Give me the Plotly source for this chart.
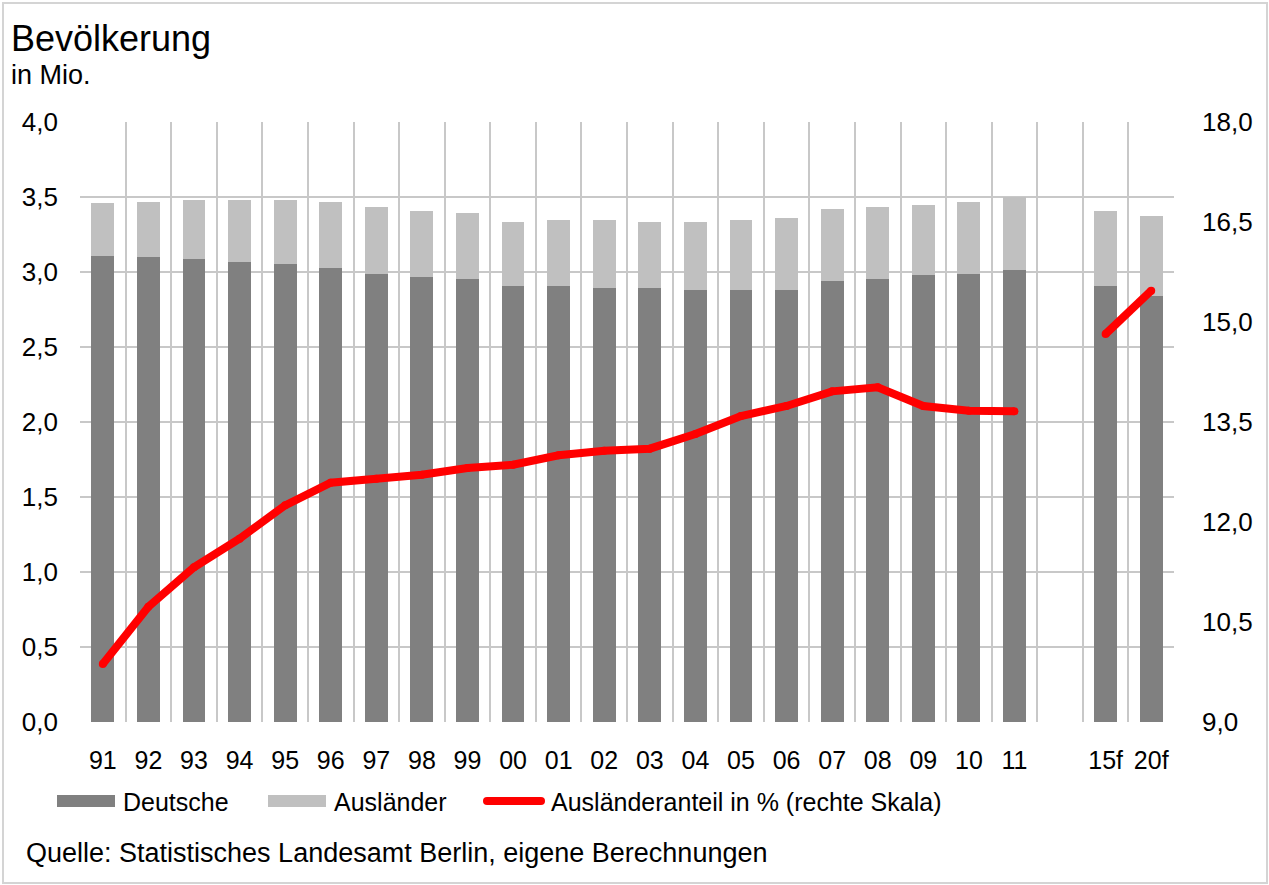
import plotly.graph_objects as go

# Bevölkerung Berlin: Deutsche / Ausländer (Mio.) und Ausländeranteil (%)
jahre = ["91", "92", "93", "94", "95", "96", "97", "98", "99", "00", "01",
         "02", "03", "04", "05", "06", "07", "08", "09", "10", "11", " ",
         "15f", "20f"]
deutsche = [3.110, 3.100, 3.088, 3.065, 3.052, 3.030, 2.990, 2.966, 2.955,
            2.906, 2.906, 2.896, 2.896, 2.882, 2.882, 2.882, 2.940, 2.955,
            2.980, 2.990, 3.015, None, 2.906, 2.842]
auslaender = [0.348, 0.369, 0.393, 0.417, 0.430, 0.439, 0.441, 0.443, 0.441,
              0.427, 0.441, 0.451, 0.437, 0.451, 0.465, 0.478, 0.480, 0.476,
              0.464, 0.479, 0.485, None, 0.501, 0.529]
anteil = [9.87, 10.73, 11.32, 11.75, 12.25, 12.59, 12.65, 12.71, 12.81,
          12.86, 13.00, 13.07, 13.10, 13.32, 13.59, 13.74, 13.96, 14.02,
          13.74, 13.67, 13.66, None, 14.82, 15.47]

FONT = "Liberation Sans, Arial, sans-serif"
W, H = 1269, 885
L, R, T, B = 80, 95, 122, 163
PW, PH = W - L - R, H - T - B

DUNKEL = "#808080"
HELL = "#c0c0c0"
ROT = "#ff0000"
GRID = "#c8c8c8"


def px_x(x):
    return (x - L) / PW


def px_y(y):
    return (H - B - y) / PH


fig = go.Figure()
fig.add_trace(go.Bar(x=jahre, y=deutsche, name="Deutsche",
                     marker=dict(color=DUNKEL, line=dict(width=0)),
                     showlegend=False))
fig.add_trace(go.Bar(x=jahre, y=auslaender, name="Ausländer",
                     marker=dict(color=HELL, line=dict(width=0)),
                     showlegend=False))
fig.add_trace(go.Scatter(x=jahre, y=anteil, yaxis="y2", mode="lines+markers",
                         name="Ausländeranteil in % (rechte Skala)",
                         line=dict(color=ROT, width=8),
                         marker=dict(color=ROT, size=8),
                         connectgaps=False, showlegend=False))

shapes = [
    # Rahmen um die Grafik
    dict(type="rect", xref="paper", yref="paper",
         x0=px_x(3), x1=px_x(1267), y0=px_y(883), y1=px_y(3),
         line=dict(color="#d4d4d4", width=2), fillcolor="rgba(0,0,0,0)",
         layer="below"),
    # Legendensymbole
    dict(type="rect", xref="paper", yref="paper",
         x0=px_x(57), x1=px_x(115), y0=px_y(807), y1=px_y(795),
         line=dict(width=0), fillcolor=DUNKEL),
    dict(type="rect", xref="paper", yref="paper",
         x0=px_x(268), x1=px_x(326), y0=px_y(807), y1=px_y(795),
         line=dict(width=0), fillcolor=HELL),
    dict(type="line", xref="paper", yref="paper",
         x0=px_x(487), x1=px_x(541), y0=px_y(801), y1=px_y(801),
         line=dict(color=ROT, width=8)),
    dict(type="circle", xref="paper", yref="paper",
         x0=px_x(483), x1=px_x(491), y0=px_y(805), y1=px_y(797),
         line=dict(width=0), fillcolor=ROT),
    dict(type="circle", xref="paper", yref="paper",
         x0=px_x(537), x1=px_x(545), y0=px_y(805), y1=px_y(797),
         line=dict(width=0), fillcolor=ROT),
]


def text(x, y, s, size, anchor="left"):
    return dict(xref="paper", yref="paper", x=px_x(x), y=px_y(y), text=s,
                showarrow=False, xanchor=anchor, yanchor="middle",
                font=dict(family=FONT, size=size, color="#000000"))


annotations = [
    text(9, 38, "Bevölkerung", 36),
    text(9, 75, "in Mio.", 27),
    text(121, 802, "Deutsche", 25),
    text(332, 802, "Ausländer", 25),
    text(549, 802, "Ausländeranteil in % (rechte Skala)", 25),
    text(24, 853, "Quelle: Statistisches Landesamt Berlin, eigene Berechnungen", 27),
]

fig.update_layout(
    width=W, height=H,
    margin=dict(l=L, r=R, t=T, b=B, autoexpand=False),
    paper_bgcolor="white", plot_bgcolor="white",
    barmode="stack", bargap=0.5,
    separators=",.",
    font=dict(family=FONT, size=24, color="#000000"),
    shapes=shapes, annotations=annotations,
    xaxis=dict(type="category", categoryorder="array", categoryarray=jahre,
               range=[-0.5, len(jahre) - 0.5], autorange=False,
               tickson="boundaries", ticks="", showgrid=True, tickangle=0,
               gridcolor=GRID, gridwidth=2, showline=False, zeroline=False,
               ticklabelstandoff=21, tickfont=dict(size=25)),
    yaxis=dict(range=[0, 4], dtick=0.5, tickformat=".1f", showgrid=True,
               gridcolor=GRID, gridwidth=2, zeroline=False, showline=False,
               ticks="", ticklabelstandoff=21, tickfont=dict(size=26)),
    yaxis2=dict(range=[9, 18], dtick=1.5, tickformat=".1f", overlaying="y",
                side="right", showgrid=False, zeroline=False, showline=False,
                ticks="", ticklabelstandoff=27, tickfont=dict(size=26)),
)

fig.write_html("out.html")
